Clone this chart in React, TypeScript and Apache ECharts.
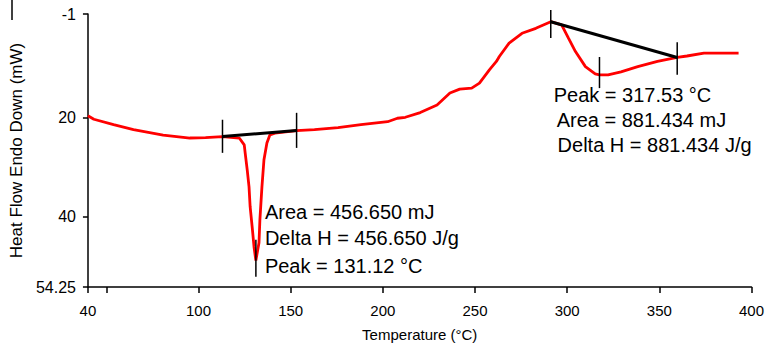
import React, { useEffect, useRef } from "react";
import * as echarts from "echarts";

// DSC curve (temperature in °C, heat flow in mW; endo down -> y axis inverted)
const temperature = [40, 43.2, 53.9, 64.7, 80.8, 95.3, 103.8, 113.0, 122.1, 124.8, 125.3, 126.4, 127.4, 128.0, 129.1, 130.1, 131.1, 132.8, 133.3, 134.4, 135.5, 137.1, 138.7, 141.4, 153.2, 162.9, 175.7, 188.1, 202.6, 207.9, 212.2, 220.3, 229.4, 236.4, 241.7, 248.2, 252.4, 257.8, 261.6, 263.2, 268.5, 275.5, 283.0, 291.1, 297.0, 300.7, 304.5, 309.9, 315.2, 317.5, 322.2, 329.2, 338.3, 349.0, 359.7, 365.0, 374.2, 393.0];
const heatFlow = [19.6, 20.3, 21.4, 22.4, 23.5, 24.1, 24.0, 23.8, 24.1, 25.5, 27.1, 30.5, 34.0, 38.0, 42.1, 46.1, 48.9, 45.3, 40.6, 34.0, 28.5, 25.1, 23.5, 23.1, 22.6, 22.4, 22.0, 21.4, 20.8, 20.1, 19.9, 18.95, 17.4, 15.0, 14.2, 14.0, 13.0, 10.3, 8.6, 7.6, 4.9, 2.9, 1.9, 0.56, 1.2, 3.9, 6.6, 9.65, 11.1, 11.3, 11.3, 10.7, 9.65, 8.6, 7.8, 7.5, 6.9, 6.9];

// Integration baselines
const baseline1T = [113.0, 153.2];
const baseline1H = [23.8, 22.6];
const baseline2T = [291.1, 359.7];
const baseline2H = [0.56, 7.8];

// Vertical limit / peak markers: temperature, heat-flow from, heat-flow to
const markerT = [113.0, 153.2, 131.12, 291.1, 359.7, 317.53];
const markerFrom = [20.4, 19.0, 44.7, -1.8, 4.7, 7.7];
const markerTo = [27.1, 26.1, 52.2, 3.85, 11.3, 14.0];

// Axis ticks / labels
const xTickValues = [40, 50, 100, 150, 200, 250, 300, 350, 400];
const xLabelValues = [40, 100, 150, 200, 250, 300, 350, 400];
const yTickValues = [-1, 20, 40, 54.25];

// Annotation texts anchored at (temperature, heat flow)
const annoText = [
  "Area = 456.650 mJ",
  "Delta H = 456.650 J/g",
  "Peak = 131.12 °C",
  "Peak = 317.53 °C",
  "Area = 881.434 mJ",
  "Delta H = 881.434 J/g",
];
const annoT = [136.0, 136.0, 136.0, 292.7, 294.3, 294.8];
const annoH = [39.0, 44.3, 50.1, 15.4, 20.4, 25.5];

const FONT = "'Liberation Sans', Arial, sans-serif";

export default function App() {
  const ref = useRef<HTMLDivElement>(null);
  useEffect(() => {
    if (!ref.current) return;
    const chart = echarts.init(ref.current, undefined, { renderer: "svg" });
    const curve = temperature.map((t, i) => [t, heatFlow[i]]);
    const markerSeries = markerT.map((t, i) => ({
      type: "line",
      data: [
        [t, markerFrom[i]],
        [t, markerTo[i]],
      ],
      showSymbol: false,
      clip: false,
      lineStyle: { color: "#000", width: 1.5 },
      z: 4,
    }));
    chart.setOption({
      animation: false,
      backgroundColor: "#fff",
      textStyle: { fontFamily: FONT },
      grid: { left: 84, right: 12, top: 14, bottom: 62 },
      xAxis: {
        type: "value",
        min: 40,
        max: 400,
        name: "Temperature (°C)",
        nameLocation: "middle",
        nameGap: 40,
        nameTextStyle: { fontSize: 15, color: "#000", fontFamily: FONT },
        axisLine: { show: true, onZero: false, lineStyle: { color: "#000", width: 1.5 } },
        axisTick: { show: true, length: 6, customValues: xTickValues, lineStyle: { color: "#000", width: 1.5 } },
        axisLabel: { customValues: xLabelValues, color: "#000", fontSize: 15, margin: 16, fontFamily: FONT },
        splitLine: { show: false },
      },
      yAxis: {
        type: "value",
        inverse: true,
        min: -1,
        max: 54.25,
        name: "Heat Flow Endo Down (mW)",
        nameLocation: "middle",
        nameGap: 62,
        nameTextStyle: { fontSize: 17, color: "#000", fontFamily: FONT },
        axisLine: { show: true, onZero: false, lineStyle: { color: "#000", width: 1.5 } },
        axisTick: { show: true, length: 5, customValues: yTickValues, lineStyle: { color: "#000", width: 1.5 } },
        axisLabel: { customValues: yTickValues, color: "#000", fontSize: 16, margin: 12, fontFamily: FONT },
        splitLine: { show: false },
      },
      series: [
        {
          type: "line",
          data: curve,
          showSymbol: false,
          lineStyle: { color: "#ff0000", width: 2.8 },
          z: 2,
        },
        {
          type: "line",
          data: baseline1T.map((t, i) => [t, baseline1H[i]]),
          showSymbol: false,
          lineStyle: { color: "#000", width: 3 },
          z: 3,
        },
        {
          type: "line",
          data: baseline2T.map((t, i) => [t, baseline2H[i]]),
          showSymbol: false,
          lineStyle: { color: "#000", width: 3 },
          z: 3,
        },
        ...markerSeries,
      ],
    });
    const texts = annoText.map((txt, i) => {
      const p = chart.convertToPixel({ gridIndex: 0 }, [annoT[i], annoH[i]]) as number[];
      return {
        type: "text",
        x: p[0],
        y: p[1],
        style: {
          text: txt,
          fontSize: 20,
          fontFamily: FONT,
          fill: "#000",
          verticalAlign: "middle",
          align: "left",
        },
        z: 10,
      };
    });
    chart.setOption({
      graphic: [
        ...texts,
        { type: "line", shape: { x1: 12, y1: 0, x2: 12, y2: 20 }, style: { stroke: "#000", lineWidth: 1.5 } },
      ],
    });
    return () => chart.dispose();
  }, []);
  return (
    <div
      ref={ref}
      style={{ position: "absolute", left: 0, top: 0, width: 767, height: 349, background: "#fff" }}
    />
  );
}
